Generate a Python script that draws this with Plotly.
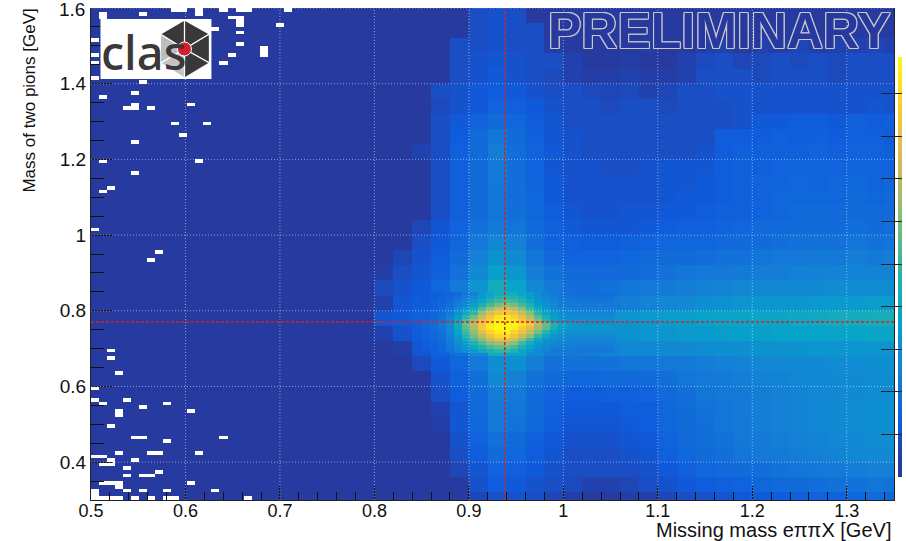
import plotly.graph_objects as go

W, H = 906, 541
L, R, T, B = 90.5, 894.0, 8.0, 500.0

x_ticks = [0.5, 0.6, 0.7, 0.8, 0.9, 1.0, 1.1, 1.2, 1.3]
x_labels = ["0.5", "0.6", "0.7", "0.8", "0.9", "1", "1.1", "1.2", "1.3"]
y_ticks = [0.4, 0.6, 0.8, 1.0, 1.2, 1.4, 1.6]
y_labels = ["0.4", "0.6", "0.8", "1", "1.2", "1.4", ""]
proton_mass = 0.938
rho_mass = 0.77

# coarse map: palette position in percent
x_edges = [0.5, 0.78, 0.80, 0.82, 0.84, 0.86, 0.88, 0.90, 0.92, 0.94, 0.96, 0.98, 1.00, 1.02, 1.04, 1.06,
           1.08, 1.10, 1.12, 1.14, 1.16, 1.18, 1.20, 1.22, 1.24, 1.26, 1.28, 1.30, 1.32, 1.34, 1.35]
y_edges = [1.60, 1.56, 1.52, 1.48, 1.44, 1.40, 1.36, 1.32, 1.28, 1.24, 1.20, 1.16, 1.12, 1.08, 1.04, 1.00, 0.96,
           0.92, 0.88, 0.84, 0.80, 0.76, 0.72, 0.68, 0.64, 0.60, 0.56, 0.52, 0.48, 0.44, 0.40, 0.36, 0.32, 0.30]
z_left = [4] * 33
z_main = [
 [4,4,4,4,4,4,9,10,9,4,4,4,4,4,4,4,4,4,4,4,4,4,4,4,4,4,4,4,4],
 [4,4,4,4,4,4,9,10,9,9,4,4,4,4,4,4,4,4,4,4,4,4,4,4,4,4,4,4,4],
 [4,4,4,4,4,9,9,10,9,9,5,4,4,4,4,5,4,4,5,6,4,6,5,7,5,6,6,7,6],
 [4,4,4,4,4,9,10,11,10,9,9,6,4,4,5,4,4,6,8,9,7,8,9,8,9,8,9,9,9],
 [4,4,4,4,4,9,10,12,10,9,8,6,5,5,6,5,5,6,9,9,9,8,9,9,9,8,9,9,9],
 [4,4,4,4,9,10,12,13,12,10,9,9,8,7,8,6,7,9,9,10,10,10,10,10,10,10,10,10,10],
 [4,4,4,4,8,10,12,15,14,12,10,9,9,8,9,9,8,9,9,9,10,10,10,10,10,10,10,11,10],
 [4,4,4,4,9,12,15,18,16,13,11,9,9,9,9,9,9,9,9,9,10,12,12,13,13,12,14,13,14],
 [4,4,4,4,9,13,17,21,18,14,11,10,9,9,9,9,9,9,9,13,13,13,14,13,14,13,14,14,13],
 [4,4,4,6,9,14,18,24,19,15,12,10,9,9,9,9,9,9,10,13,14,14,14,14,15,14,15,15,14],
 [4,4,4,4,9,14,18,23,19,15,11,10,10,9,9,10,11,11,11,13,14,14,15,15,15,15,15,15,15],
 [4,4,4,4,9,14,18,22,19,15,12,10,10,10,10,10,11,11,12,13,14,15,15,16,15,16,16,15,16],
 [4,4,4,4,9,14,18,21,19,16,12,10,10,10,10,10,11,12,12,13,14,15,16,16,16,16,17,16,17],
 [4,4,4,4,9,14,18,21,19,16,13,11,10,10,11,11,12,12,13,14,14,15,16,17,17,17,18,17,18],
 [4,4,4,7,11,15,20,23,21,17,14,12,11,11,11,12,13,14,14,15,16,17,17,18,18,18,19,18,19],
 [4,4,4,9,12,16,22,27,25,19,15,14,13,13,14,15,16,16,16,17,18,18,19,20,20,20,21,20,21],
 [4,4,7,10,13,18,25,31,28,21,17,15,15,15,16,17,18,18,19,20,20,21,22,22,23,23,24,23,24],
 [4,5,9,11,14,20,28,36,33,24,20,17,17,17,18,19,20,21,22,22,23,24,24,25,25,26,26,26,26],
 [4,8,10,12,16,23,32,42,38,27,22,19,19,20,21,22,23,24,25,26,27,27,28,28,28,29,29,29,29],
 [4,6,11,13,17,23,32,50,44,30,24,22,22,23,24,26,27,28,30,31,32,33,33,33,34,34,34,35,35],
 [4,11,12,14,19,26,36,56,50,34,28,26,30,32,33,34,35,36,37,38,38,39,39,40,41,42,42,43,43],
 [4,6,10,13,17,23,32,52,46,31,26,24,28,30,31,32,33,34,34,35,36,36,37,37,38,38,38,39,39],
 [4,4,5,11,14,19,28,42,38,28,24,22,24,26,27,27,28,28,29,30,30,31,31,31,32,32,32,32,32],
 [4,4,4,8,12,16,23,30,30,24,20,20,20,20,21,21,22,23,24,25,26,27,27,28,28,29,29,30,30],
 [4,4,4,4,10,14,19,28,25,20,18,16,16,17,17,18,19,21,22,23,24,25,26,27,27,28,28,29,29],
 [4,4,4,4,9,13,18,24,22,18,15,13,13,14,14,15,17,19,21,22,23,24,25,26,27,28,28,29,30],
 [4,4,4,4,6,11,17,23,21,17,14,12,12,12,13,13,16,18,20,21,23,24,25,26,27,28,29,30,30],
 [4,4,4,4,5,11,16,22,20,16,13,11,11,11,12,13,16,18,19,21,22,24,25,26,27,28,29,30,30],
 [4,4,4,4,4,10,15,20,18,14,12,10,10,10,11,12,15,17,19,20,22,23,24,25,26,27,28,29,30],
 [4,4,4,4,4,9,13,18,16,13,11,9,9,9,10,11,14,16,18,19,21,22,23,24,25,26,27,28,28],
 [4,4,4,4,4,7,11,15,14,12,10,9,9,9,9,10,12,14,16,17,18,19,20,21,22,23,24,25,25],
 [4,4,4,4,4,4,10,13,12,10,9,8,6,6,7,9,10,12,13,14,15,16,17,18,19,20,20,21,20],
 [4,4,4,4,4,4,7,10,10,9,7,5,4,4,5,5,7,9,10,11,12,12,13,14,15,15,16,17,16],
]

# fine map around the peak
peak_x_edges = [0.85 + 0.0085 * i for i in range(25)]
peak_y_edges = [0.85 - 0.01 * i for i in range(17)]
z_peak = [
 [12,13,14,16,18,22,26,32,38,43,44,43,39,34,29,25,23,21,20,19,19,19,19,19],
 [12,13,15,17,20,24,29,35,41,46,48,46,42,36,31,27,24,22,21,20,20,20,20,20],
 [12,14,15,18,22,26,32,39,46,52,54,52,47,40,33,29,26,23,22,21,21,21,21,21],
 [13,14,16,19,24,29,36,45,53,60,64,60,53,45,36,31,27,24,23,23,22,22,22,22],
 [13,15,17,21,27,34,42,54,65,74,78,72,63,52,41,34,29,26,25,24,24,24,24,24],
 [14,16,18,23,31,40,50,66,77,84,86,82,73,62,48,38,32,29,27,26,26,26,26,26],
 [14,16,19,25,35,48,60,73,85,94,96,90,81,70,56,44,35,31,29,28,28,28,28,28],
 [15,17,20,27,38,54,67,79,90,98,99,96,87,76,62,48,39,33,31,30,30,31,31,31],
 [16,18,22,29,42,58,71,85,94,100,100,99,94,85,71,58,46,38,34,33,33,33,33,33],
 [15,17,21,28,40,56,69,85,96,100,99,97,88,79,67,56,44,36,33,32,32,32,32,32],
 [15,17,20,27,38,52,65,79,90,96,98,90,83,73,60,48,38,33,31,30,30,30,30,30],
 [14,16,19,25,34,48,60,71,82,90,92,84,75,64,50,40,33,30,28,28,28,28,28,28],
 [14,15,18,24,32,42,54,63,74,82,82,76,64,52,40,34,30,28,27,26,26,26,26,26],
 [13,15,17,22,29,37,46,55,63,68,68,63,53,42,34,30,27,26,25,25,25,25,25,25],
 [13,14,16,21,27,33,40,47,54,58,58,53,45,37,31,27,25,24,24,23,23,23,23,23],
 [12,14,16,20,25,30,35,41,46,50,50,46,39,33,28,25,23,22,22,22,22,22,22,22],
]

# empty bins (white), as (column, row) of the 100 x 130 histogram
empty_bins = [
 (0,29),(0,26),(1,25),(4,26),(6,24),(9,25),(12,23),(3,23),(3,22),(2,19),(5,16),(6,16),(16,16),(9,15),
 (3,12),(7,12),(8,12),(13,12),(0,11),(1,11),(2,10),(5,10),(1,9),(2,9),(4,8),(8,7),(4,6),(6,6),(7,6),
 (1,4),(2,4),(3,4),(12,4),(3,3),(0,2),(4,2),(6,2),(9,2),(15,2),(0,1),
 (0,0),(1,0),(2,0),(3,0),(5,0),(7,0),(9,0),(10,0),(19,0),
 (2,39),(2,37),(3,33),
 (10,99),(14,99),(11,96),(5,94),(1,89),(13,89),(5,86),(2,82),(1,81),(0,71),(8,65),(7,63),
 (10,129),(11,129),(13,129),(13,128),(16,129),(18,129),(19,129),(24,129),(6,128),(1,128),(1,127),
 (17,127),(18,127),(18,126),(18,125),(23,125),(15,124),(18,123),(18,120),(17,117),(21,119),(21,118),(21,117),
 (16,115),(0,121),(0,117),(0,115),(0,111),(6,110),(1,106),(5,107),(4,103),(5,103),(5,104),(7,103),(12,104),
]

bird = [[0.00, "#27399f"], [0.04, "#273aa0"], [0.125, "#0f5cdd"], [0.25, "#1481d6"], [0.375, "#06a4ca"],
        [0.50, "#2eb7a4"], [0.625, "#87bf77"], [0.75, "#d1bb59"], [0.875, "#fec832"], [1.00, "#f9fb0e"]]


def px(x):
    return (x - L) / (R - L)


def py(y):
    return (B - y) / (B - T)


fig = go.Figure()
fig.add_trace(go.Heatmap(
    x=x_edges, y=y_edges,
    z=[[a] + row for a, row in zip(z_left, z_main)],
    coloraxis="coloraxis", hoverinfo="skip"))
fig.add_trace(go.Heatmap(
    x=peak_x_edges, y=peak_y_edges, z=z_peak,
    coloraxis="coloraxis", hoverinfo="skip"))

empty_grid = [[None] * 100 for _ in range(130)]
for c, r in empty_bins:
    empty_grid[r][c] = 1
fig.add_trace(go.Heatmap(
    x=[0.5 + 0.0085 * i for i in range(101)],
    y=[0.3 + 0.01 * i for i in range(131)],
    z=empty_grid, showscale=False, hoverinfo="skip",
    colorscale=[[0, "#ffffff"], [1, "#ffffff"]]))

shapes = []
for v in x_ticks[1:]:
    shapes.append(dict(type="line", xref="x", yref="paper", x0=v, x1=v, y0=0, y1=1, layer="above",
                       line=dict(color="rgba(255,255,255,0.5)", width=1, dash="1px,2px")))
for v in y_ticks:
    shapes.append(dict(type="line", xref="paper", yref="y", x0=0, x1=1, y0=v, y1=v, layer="above",
                       line=dict(color="rgba(255,255,255,0.5)", width=1, dash="1px,2px")))
red = dict(color="#d8202c", width=1.5, dash="3px,2px")
shapes.append(dict(type="line", xref="x", yref="paper", x0=proton_mass, x1=proton_mass, y0=0, y1=1, layer="above", line=red))
shapes.append(dict(type="line", xref="paper", yref="y", x0=0, x1=1, y0=rho_mass, y1=rho_mass, layer="above", line=red))

# CLAS logo
shapes.append(dict(type="rect", xref="paper", yref="paper", x0=px(100), x1=px(211), y0=py(79), y1=py(19),
                   fillcolor="white", line=dict(width=0), layer="above"))
cx, cy = 184, 49
hexagon = [(184, 20), (209, 34), (209, 63), (184, 78), (160, 63), (160, 34)]
fills = ["#3a3838", "#3a3838", "#3a3838", "#c4c4c4", "#bdbdbd", "#3a3838"]
for i, col in enumerate(fills):
    a, b = hexagon[i], hexagon[(i + 1) % 6]
    path = "M{:.4f},{:.4f} L{:.4f},{:.4f} L{:.4f},{:.4f} Z".format(px(cx), py(cy), px(a[0]), py(a[1]), px(b[0]), py(b[1]))
    shapes.append(dict(type="path", xref="paper", yref="paper", path=path, fillcolor=col,
                       line=dict(color="white", width=1.2), layer="above"))
shapes.append(dict(type="circle", xref="paper", yref="paper", x0=px(cx - 7), x1=px(cx + 7), y0=py(cy + 7), y1=py(cy - 7),
                   fillcolor="#d11f30", line=dict(color="white", width=1), layer="above"))

ring = "1px 0 #c8c8c8, -1px 0 #c8c8c8, 0 1px #c8c8c8, 0 -1px #c8c8c8, 1px 1px #c8c8c8, -1px 1px #c8c8c8, 1px -1px #c8c8c8, -1px -1px #c8c8c8"
annotations = [
    dict(text="PRELIMINARY", xref="paper", yref="paper", x=px(719), y=py(31), xanchor="center", yanchor="middle",
         showarrow=False, font=dict(family="Liberation Sans", size=50, weight=700, color="#27399f", shadow=ring)),
    dict(text="clas", xref="paper", yref="paper", x=px(99), y=py(52), xanchor="left", yanchor="middle",
         showarrow=False, font=dict(family="Noto Sans", size=47, weight=500, color="#3a3838")),
    dict(text="Missing mass eππX [GeV]", xref="paper", yref="paper", x=px(893), y=py(530), xanchor="right", yanchor="middle",
         showarrow=False, font=dict(family="Liberation Sans", size=20, color="#111111")),
    dict(text="Mass of two pions [GeV]", xref="paper", yref="paper", x=px(29), y=py(101), xanchor="center", yanchor="middle",
         textangle=-90, showarrow=False, font=dict(family="Liberation Sans", size=17, color="#111111")),
    dict(text="1.6", xref="paper", yref="paper", x=px(86), y=py(10), xanchor="right", yanchor="middle",
         showarrow=False, font=dict(family="Liberation Sans", size=19, color="#111111")),
]

fig.update_layout(
    width=W, height=H, autosize=False,
    margin=dict(l=L, r=W - R, t=T, b=H - B, autoexpand=False, pad=0),
    paper_bgcolor="white", plot_bgcolor="#27399f",
    shapes=shapes, annotations=annotations, showlegend=False,
    coloraxis=dict(
        cmin=0, cmax=100, colorscale=bird,
        colorbar=dict(
            x=(898.5 - L) / (R - L), xanchor="left", y=(B - 477) / (B - T), yanchor="bottom",
            len=420, lenmode="pixels", thickness=4, thicknessmode="pixels", xpad=0, ypad=0,
            outlinewidth=0, ticks="inside", ticklen=21, tickcolor="#222222", tickwidth=1,
            tickmode="array", tickvals=[10.14 * i for i in range(10)], showticklabels=False)),
    xaxis=dict(range=[0.5, 1.35], tickmode="array", tickvals=x_ticks, ticktext=x_labels, ticks="inside", ticklen=14,
               tickcolor="#111111", showgrid=False, zeroline=False, showline=True, linecolor="#222222", linewidth=1,
               layer="above traces", ticklabelstandoff=-6, tickfont=dict(family="Liberation Sans", size=18, color="#111111"),
               minor=dict(tickmode="array", tickvals=[0.5 + 0.02 * i for i in range(43)], ticks="inside", ticklen=8,
                          tickcolor="#111111", showgrid=False)),
    yaxis=dict(range=[0.3, 1.6], tickmode="array", tickvals=y_ticks, ticktext=y_labels, ticks="inside", ticklen=22,
               tickcolor="#111111", showgrid=False, zeroline=False, showline=True, mirror=True, linecolor="#222222", linewidth=1,
               layer="above traces", tickfont=dict(family="Liberation Sans", size=19, color="#111111"),
               minor=dict(tickmode="array", tickvals=[0.3 + 0.05 * i for i in range(27)], ticks="inside", ticklen=13,
                          tickcolor="#111111", showgrid=False)),
)

fig.write_html("out.html", config={"displayModeBar": False}, post_script="document.body.style.margin='0';")
